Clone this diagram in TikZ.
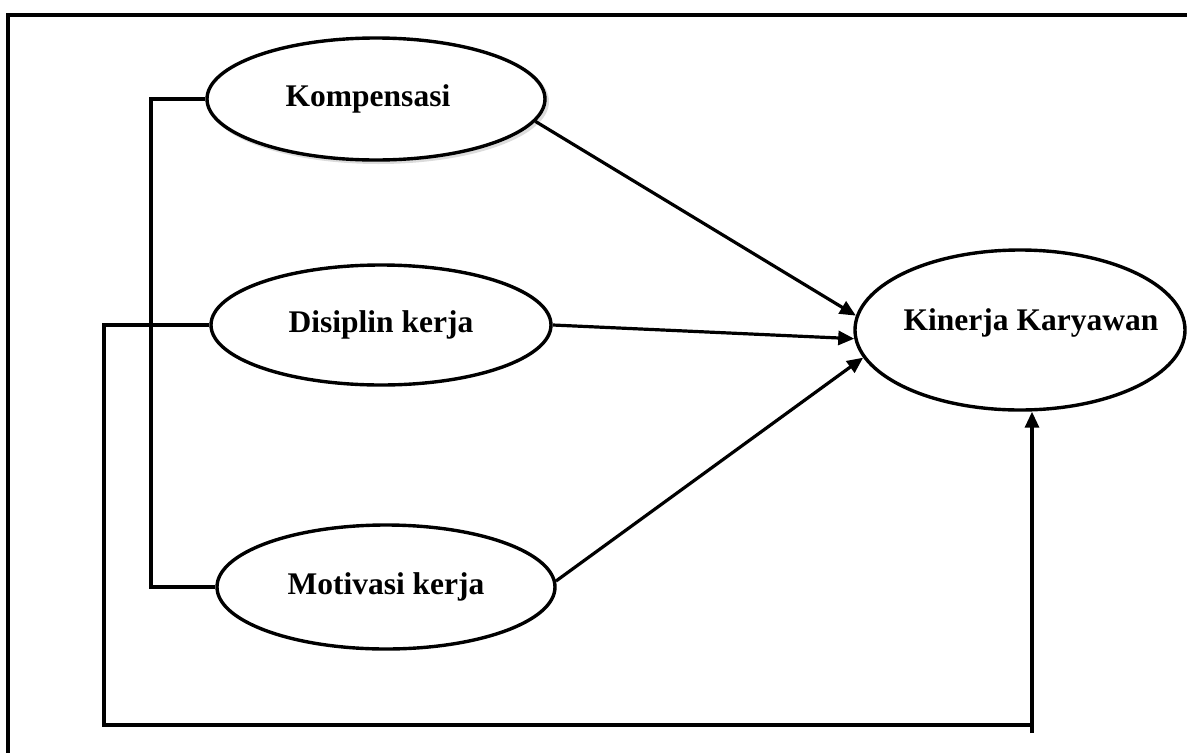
\documentclass[tikz,border=0pt]{standalone}
\usepackage{fontspec}
\setmainfont{Liberation Serif}
\usetikzlibrary{arrows.meta,shapes.geometric,shadows}
\begin{document}
\begin{tikzpicture}[x=1pt,y=-1pt,
  var/.style={ellipse, draw=black, line width=3.4pt, inner sep=0pt, fill=white},
  vtext/.style={font=\fontsize{31.5}{36}\selectfont\bfseries, inner sep=0pt},
  conn/.style={line width=3.2pt, line join=miter},
  arr/.style={conn, -{Triangle[length=16pt,width=14pt]}}]
\useasboundingbox (0,0) rectangle (1187,753);
% frame
\draw[line width=3.4pt] (1187,15) -- (8,15) -- (8,753);
% variables
\node[var, minimum width=338pt, minimum height=122pt,
  drop shadow={shadow xshift=2.5pt, shadow yshift=-2.5pt, fill=none, draw=gray!55, line width=3pt},
  label={[vtext, xshift=-8pt]center:Kompensasi}]
  (komp) at (376,99) {};
\node[var, minimum width=340pt, minimum height=120pt,
  label={[vtext]center:Disiplin kerja}] (disi) at (381,325) {};
\node[var, minimum width=338pt, minimum height=124pt,
  label={[vtext]center:Motivasi kerja}] (moti) at (386,587) {};
\node[var, minimum width=330pt, minimum height=160pt,
  label={[vtext, xshift=11pt, yshift=7pt]center:Kinerja Karyawan}] (kin) at (1020,330) {};
% arrows to Kinerja
\draw[arr] (komp.-8) -- (kin.175);
\draw[arr] (disi.east) -- (kin.183);
\draw[arr] (moti.2) -- (kin.190);
% bracket joining Kompensasi and Motivasi
\coordinate (bx) at (151,0);
\draw[conn] (komp.west) -- (komp.west -| bx) -- (moti.west -| bx) -- (moti.west);
% outer loop from Disiplin to Kinerja
\coordinate (lx) at (104,725);
\coordinate (rx) at (1032,725);
\coordinate (rb) at (1032,733);
\draw[conn] (disi.west) -- (disi.west -| lx) -- (lx) -- (rx);
\draw[arr] (rb) -- (rb |- kin.south);
\end{tikzpicture}
\end{document}
